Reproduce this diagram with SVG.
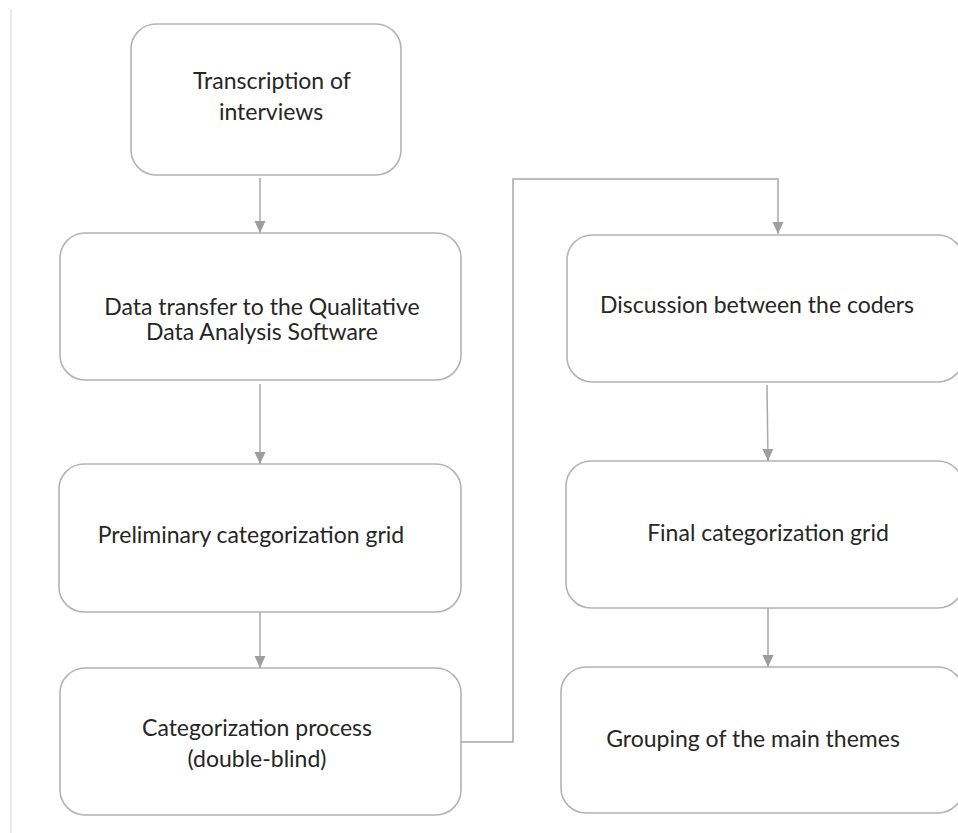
<svg xmlns="http://www.w3.org/2000/svg" width="958" height="833" viewBox="0 0 958 833">
<defs>
<style>
.box{fill:#ffffff;stroke:#b3b3b3;stroke-width:1.6}
.lbl{font-family:Lato,"Liberation Sans",sans-serif;font-size:23px;fill:#262626;text-anchor:middle}
.conn{fill:none;stroke:#a8a8a8;stroke-width:1.5}
.frame{stroke:#d9d9d9;stroke-width:1.2}
</style>
<marker id="ah" markerWidth="12" markerHeight="12" viewBox="0 0 12 12" refX="12" refY="6" orient="auto" markerUnits="userSpaceOnUse">
<path d="M0,0.5 L12,6 L0,11.5 Z" fill="#9e9e9e"/>
</marker>
</defs>
<rect width="958" height="833" fill="#ffffff"/>
<line class="frame" x1="11" y1="9" x2="11" y2="833"/>
<g id="n1"><rect class="box" x="131" y="24" width="270" height="151" rx="25"/>
<text class="lbl" x="272" y="89">Transcription of</text><text class="lbl" x="271" y="120">interviews</text></g>
<g id="n2"><rect class="box" x="60" y="233" width="401" height="147" rx="25"/>
<text class="lbl" x="262" y="315">Data transfer to the Qualitative</text><text class="lbl" x="262" y="340">Data Analysis Software</text></g>
<g id="n3"><rect class="box" x="59" y="464" width="402" height="148" rx="25"/>
<text class="lbl" x="251" y="543">Preliminary categorization grid</text></g>
<g id="n4"><rect class="box" x="60" y="668" width="401" height="147" rx="25"/>
<text class="lbl" x="257" y="736">Categorization process</text><text class="lbl" x="257" y="767">(double-blind)</text></g>
<g id="n5"><rect class="box" x="567" y="235" width="396" height="147" rx="25"/>
<text class="lbl" x="757" y="313">Discussion between the coders</text></g>
<g id="n6"><rect class="box" x="566" y="461" width="397" height="147" rx="25"/>
<text class="lbl" x="768" y="541">Final categorization grid</text></g>
<g id="n7"><rect class="box" x="561" y="667" width="402" height="146" rx="25"/>
<text class="lbl" x="753" y="747">Grouping of the main themes</text></g>
<g id="connectors">
<line class="conn" x1="260" y1="178" x2="260" y2="233" marker-end="url(#ah)"/>
<line class="conn" x1="260" y1="384" x2="260" y2="464" marker-end="url(#ah)"/>
<line class="conn" x1="260" y1="612" x2="260" y2="668" marker-end="url(#ah)"/>
<polyline class="conn" points="461,742 513,742 513,179 778,179 778,234" marker-end="url(#ah)"/>
<line class="conn" x1="767" y1="385" x2="768" y2="461" marker-end="url(#ah)"/>
<line class="conn" x1="768" y1="608" x2="768" y2="667" marker-end="url(#ah)"/>
</g>
</svg>
